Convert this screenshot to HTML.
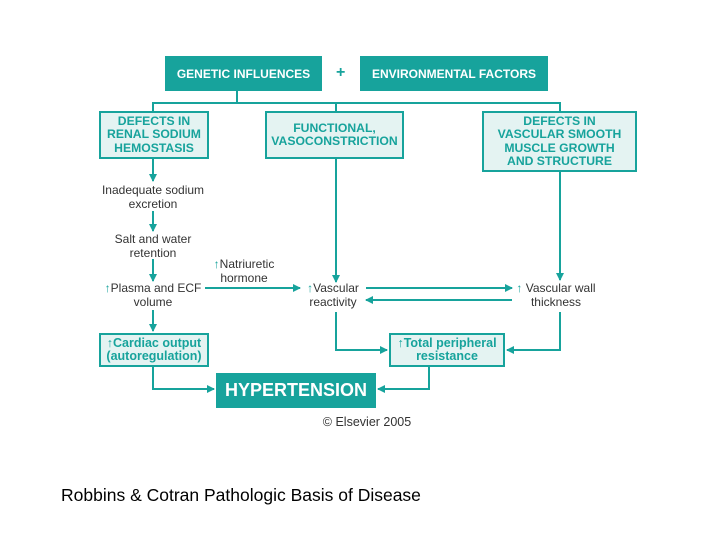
<!DOCTYPE html>
<html><head><style>
body{margin:0;width:720px;height:540px;background:#fff;position:relative;font-family:"Liberation Sans",Arial,sans-serif;overflow:hidden}
.d{position:absolute;box-sizing:border-box;display:flex;align-items:center;justify-content:center;text-align:center;font-weight:bold}
.t{background:#17a39c;color:#fff}
.l{background:#e4f3f2;border:2px solid #17a39c;color:#17a39c;font-size:12.2px;line-height:13.5px}
.x{position:absolute;font-size:12px;line-height:13.5px;color:#333;text-align:center;transform:translateX(-50%);white-space:nowrap}
.u{color:#17a39c}
</style></head><body>
<svg width="720" height="540" style="position:absolute;left:0;top:0">
<defs><marker id="a" markerWidth="8" markerHeight="8" refX="7" refY="4" orient="auto" markerUnits="userSpaceOnUse"><path d="M0,0 L8,4 L0,8 Z" fill="#17a39c"/></marker></defs>
<g stroke="#17a39c" stroke-width="2" fill="none">
<path d="M237,91 V103 M153,111 V103 H560 V111 M336,103 V111"/>
<path d="M153,159 V181" marker-end="url(#a)"/>
<path d="M153,211 V231" marker-end="url(#a)"/>
<path d="M153,259 V281" marker-end="url(#a)"/>
<path d="M153,310 V331" marker-end="url(#a)"/>
<path d="M336,159 V282" marker-end="url(#a)"/>
<path d="M560,172 V280" marker-end="url(#a)"/>
<path d="M205,288 H300" marker-end="url(#a)"/>
<path d="M366,288 H512" marker-end="url(#a)"/>
<path d="M512,300 H366" marker-end="url(#a)"/>
<path d="M336,312 V350 H387" marker-end="url(#a)"/>
<path d="M560,312 V350 H507" marker-end="url(#a)"/>
<path d="M153,366 V389 H214" marker-end="url(#a)"/>
<path d="M429,366 V389 H378" marker-end="url(#a)"/>
</g></svg>
<div class="d t" style="left:165px;top:56px;width:157px;height:35px;font-size:12px">GENETIC INFLUENCES</div>
<div style="position:absolute;left:336px;top:64px;color:#17a39c;font-weight:bold;font-size:16px">+</div>
<div class="d t" style="left:360px;top:56px;width:188px;height:35px;font-size:12px">ENVIRONMENTAL FACTORS</div>
<div class="d l" style="left:99px;top:111px;width:110px;height:48px">DEFECTS IN<br>RENAL SODIUM<br>HEMOSTASIS</div>
<div class="d l" style="left:265px;top:111px;width:139px;height:48px">FUNCTIONAL,<br>VASOCONSTRICTION</div>
<div class="d l" style="left:482px;top:111px;width:155px;height:61px">DEFECTS IN<br>VASCULAR SMOOTH<br>MUSCLE GROWTH<br>AND STRUCTURE</div>
<div class="x" style="left:153px;top:184px">Inadequate sodium<br>excretion</div>
<div class="x" style="left:153px;top:233px">Salt and water<br>retention</div>
<div class="x" style="left:153px;top:282px"><span class="u">↑</span>Plasma and ECF<br>volume</div>
<div class="x" style="left:244px;top:258px"><span class="u">↑</span>Natriuretic<br>hormone</div>
<div class="x" style="left:333px;top:282px"><span class="u">↑</span>Vascular<br>reactivity</div>
<div class="x" style="left:556px;top:282px"><span class="u">↑</span> Vascular wall<br>thickness</div>
<div class="d l" style="left:99px;top:333px;width:110px;height:34px;font-size:12.5px"><span>↑Cardiac output<br>(autoregulation)</span></div>
<div class="d l" style="left:389px;top:333px;width:116px;height:34px;font-size:12.5px"><span>↑Total peripheral<br>resistance</span></div>
<div class="d t" style="left:216px;top:373px;width:160px;height:35px;font-size:18px">HYPERTENSION</div>
<div class="x" style="left:367px;top:416px;font-size:12.5px">© Elsevier 2005</div>
<div style="position:absolute;left:61px;top:485px;font-size:17.5px;color:#000">Robbins &amp; Cotran Pathologic Basis of Disease</div>
</body></html>
